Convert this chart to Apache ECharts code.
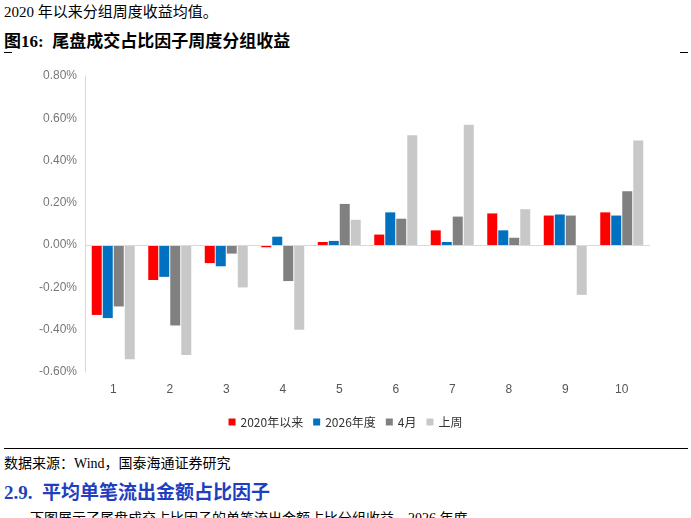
<!DOCTYPE html>
<html><head><meta charset="utf-8">
<script src="https://cdn.jsdelivr.net/npm/echarts@6/dist/echarts.min.js"></script>
<style>
body{margin:0;width:691px;height:518px;position:relative;overflow:hidden;background:#fff;font-family:"Noto Sans CJK SC";}
.t{position:absolute;white-space:nowrap;}
</style></head><body>
<div class="t" style="left:4px;top:0px;font-size:15px;font-family:'Liberation Serif','Noto Sans CJK SC';">2020 年以来分组周度收益均值。</div>
<div class="t" style="left:4px;top:27px;font-size:17px;font-weight:bold;font-family:'Liberation Serif','Noto Sans CJK SC';">图16:&nbsp;&nbsp;尾盘成交占比因子周度分组收益</div>
<div style="position:absolute;left:4px;top:52px;width:8px;border-top:1px solid #000;"></div>
<div style="position:absolute;left:680px;top:52px;width:8px;border-top:1px solid #000;"></div>
<div style="position:absolute;left:4px;top:448px;width:684px;border-top:1px solid #000;"></div>
<div class="t" style="left:4px;top:452px;font-size:14px;font-family:'Liberation Serif','Noto Sans CJK SC';">数据来源：Wind，国泰海通证券研究</div>
<div class="t" style="left:4px;top:477px;font-size:19px;font-weight:bold;color:#1f3fbf;font-family:'Liberation Serif','Noto Sans CJK SC';">2.9.&nbsp;&nbsp;平均单笔流出金额占比因子</div>
<div class="t" style="left:30px;top:507px;font-size:14px;font-family:'Liberation Serif','Noto Sans CJK SC';">下图展示了尾盘成交占比因子的单笔流出金额占比分组收益。2026 年度</div>
<div id="c" style="position:absolute;left:0;top:0;width:691px;height:518px;"></div>
<script>
const categories=['1','2','3','4','5','6','7','8','9','10'];
const names=['2020年以来','2026年度','4月','上周'];
const s2020=[-0.33,-0.165,-0.085,-0.01,0.015,0.05,0.07,0.15,0.14,0.155];
const s2026=[-0.345,-0.15,-0.10,0.04,0.02,0.155,0.015,0.07,0.145,0.14];
const sApr=[-0.29,-0.38,-0.04,-0.17,0.195,0.125,0.135,0.035,0.14,0.255];
const sWeek=[-0.54,-0.52,-0.20,-0.40,0.12,0.52,0.57,0.17,-0.235,0.495];
const colors=['#ff0000','#0070c0','#808080','#c8c8c8'];
const data=[s2020,s2026,sApr,sWeek];
const chart=echarts.init(document.getElementById('c'));
chart.setOption({
 animation:false,
 legend:{bottom:85,left:'center',itemWidth:7,itemHeight:7,itemGap:10,icon:'rect',textStyle:{fontSize:12,color:'#333',fontFamily:'Noto Sans CJK SC'}},
 grid:{left:85,right:41,top:76,bottom:146},
 xAxis:{type:'category',data:categories,axisLine:{show:false},axisTick:{show:false},axisLabel:{color:'#555',fontSize:12,margin:12}},
 yAxis:{type:'value',min:-0.6,max:0.8,interval:0.2,axisLine:{show:true,lineStyle:{color:'#d9d9d9'}},splitLine:{show:false},
  axisLabel:{color:'#777',fontSize:12,formatter:v=>v.toFixed(2)+'%'}},
 series:names.map((n,i)=>({name:n,type:'bar',data:data[i],barWidth:10,barGap:'10%',itemStyle:{color:colors[i]},
  markLine:i===0?{symbol:'none',silent:true,label:{show:false},lineStyle:{color:'#d9d9d9',type:'solid',width:1},data:[{yAxis:0}]}:undefined}))
});
</script></body></html>
